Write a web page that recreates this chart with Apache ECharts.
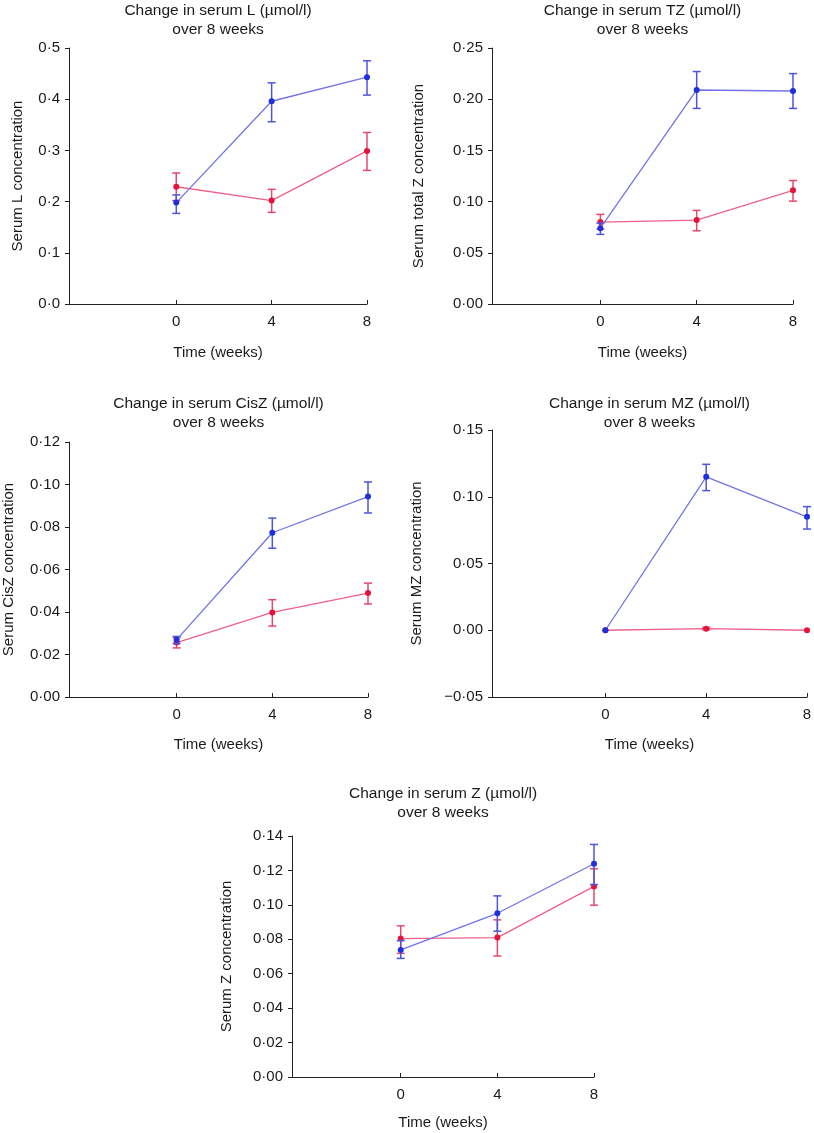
<!DOCTYPE html>
<html>
<head>
<meta charset="utf-8">
<script src="https://cdn.jsdelivr.net/npm/echarts@6/dist/echarts.min.js"></script>
<style>
html,body{margin:0;padding:0;background:#fff;}
#chart{width:814px;height:1133px;}
</style>
</head>
<body>
<div id="chart"></div>
<script>
// ---- data ----
var weeks = [0, 4, 8];
var xTickLabels = [0, 4, 8];

var L_blue = [0.198, 0.396, 0.443];
var L_blue_lo = [0.177, 0.356, 0.408];
var L_blue_hi = [0.213, 0.432, 0.475];
var L_red = [0.229, 0.202, 0.299];
var L_red_lo = [0.202, 0.179, 0.261];
var L_red_hi = [0.256, 0.224, 0.335];

var TZ_blue = [0.074, 0.209, 0.208];
var TZ_blue_lo = [0.068, 0.191, 0.191];
var TZ_blue_hi = [0.079, 0.227, 0.225];
var TZ_red = [0.080, 0.082, 0.111];
var TZ_red_lo = [0.073, 0.0715, 0.1005];
var TZ_red_hi = [0.0875, 0.0914, 0.1206];

var CisZ_blue = [0.027, 0.0773, 0.0943];
var CisZ_blue_lo = [0.0251, 0.070, 0.0866];
var CisZ_blue_hi = [0.0285, 0.0842, 0.1012];
var CisZ_red = [0.0256, 0.0398, 0.0489];
var CisZ_red_lo = [0.0231, 0.0334, 0.0438];
var CisZ_red_hi = [0.028, 0.0458, 0.0536];

var MZ_blue = [0, 0.1149, 0.085];
var MZ_blue_lo = [0, 0.1046, 0.0758];
var MZ_blue_hi = [0, 0.1243, 0.0926];
var MZ_red = [0, 0.0012, 0];
var MZ_red_lo = [0, 0.0003, 0];
var MZ_red_hi = [0, 0.0021, 0];

var Z_blue = [0.0738, 0.0951, 0.1239];
var Z_blue_lo = [0.0689, 0.0847, 0.1118];
var Z_blue_hi = [0.0792, 0.1052, 0.1351];
var Z_red = [0.0804, 0.081, 0.1107];
var Z_red_lo = [0.0718, 0.0703, 0.0998];
var Z_red_hi = [0.0878, 0.0913, 0.121];

var titles = [
  'Change in serum L (\u00b5mol/l)\nover 8 weeks',
  'Change in serum TZ (\u00b5mol/l)\nover 8 weeks',
  'Change in serum CisZ (\u00b5mol/l)\nover 8 weeks',
  'Change in serum MZ (\u00b5mol/l)\nover 8 weeks',
  'Change in serum Z (\u00b5mol/l)\nover 8 weeks'
];
var yNames = ['Serum L concentration', 'Serum total Z concentration', 'Serum CisZ concentration', 'Serum MZ concentration', 'Serum Z concentration'];
var xName = 'Time (weeks)';

// ---- layout / style ----
var FONT = "'Liberation Sans', Arial, Helvetica, sans-serif";
var TXT = '#1a1a1a';
var BLUE_LINE = '#7373e8', BLUE_MK = '#1f2fe0', BLUE_ERR = '#4a56e2';
var RED_LINE = '#ee6088', RED_MK = '#e3143c', RED_ERR = '#e8486e';

var panels = [
  {left: 69, top: 48, width: 298, height: 256, ymin: 0, ymax: 0.5, yint: 0.1, dec: 1, ygap: 44, xgap: 41, tTop: 1,
   b: L_blue, bl: L_blue_lo, bh: L_blue_hi, r: L_red, rl: L_red_lo, rh: L_red_hi},
  {left: 492, top: 48, width: 301, height: 256, ymin: 0, ymax: 0.25, yint: 0.05, dec: 2, ygap: 65.5, xgap: 41, tTop: 1,
   b: TZ_blue, bl: TZ_blue_lo, bh: TZ_blue_hi, r: TZ_red, rl: TZ_red_lo, rh: TZ_red_hi},
  {left: 69, top: 442, width: 299, height: 255, ymin: 0, ymax: 0.12, yint: 0.02, dec: 2, ygap: 52.5, xgap: 40.5, tTop: 394,
   b: CisZ_blue, bl: CisZ_blue_lo, bh: CisZ_blue_hi, r: CisZ_red, rl: CisZ_red_lo, rh: CisZ_red_hi},
  {left: 492, top: 430, width: 315, height: 267, ymin: -0.05, ymax: 0.15, yint: 0.05, dec: 2, ygap: 67.5, xgap: 40.5, tTop: 394,
   b: MZ_blue, bl: MZ_blue_lo, bh: MZ_blue_hi, r: MZ_red, rl: MZ_red_lo, rh: MZ_red_hi},
  {left: 292, top: 836, width: 302, height: 241, ymin: 0, ymax: 0.14, yint: 0.02, dec: 2, ygap: 57.5, xgap: 38.5, tTop: 784,
   b: Z_blue, bl: Z_blue_lo, bh: Z_blue_hi, r: Z_red, rl: Z_red_lo, rh: Z_red_hi}
];

function pts(vals) { return weeks.map(function (w, i) { return [w, vals[i]]; }); }
function errs(lo, hi) { return weeks.map(function (w, i) { return [w, lo[i], hi[i]]; }); }

function errRender(color) {
  return function (params, api) {
    var x = api.value(0), lo = api.value(1), hi = api.value(2);
    if (hi - lo < 1e-9) return null;
    var pLo = api.coord([x, lo]);
    var pHi = api.coord([x, hi]);
    var c = 4;
    var st = {stroke: color, lineWidth: 1.5, fill: null};
    return {
      type: 'group',
      children: [
        {type: 'line', shape: {x1: pLo[0], y1: pLo[1], x2: pHi[0], y2: pHi[1]}, style: st},
        {type: 'line', shape: {x1: pLo[0] - c, y1: pLo[1], x2: pLo[0] + c, y2: pLo[1]}, style: st},
        {type: 'line', shape: {x1: pHi[0] - c, y1: pHi[1], x2: pHi[0] + c, y2: pHi[1]}, style: st}
      ]
    };
  };
}

var option = {
  animation: false,
  backgroundColor: '#fff',
  textStyle: {fontFamily: FONT},
  title: [], grid: [], xAxis: [], yAxis: [], series: []
};

panels.forEach(function (p, i) {
  option.title.push({
    text: titles[i],
    left: p.left + p.width / 2,
    top: p.tTop,
    textAlign: 'center',
    padding: 0,
    textStyle: {fontFamily: FONT, fontSize: 15.5, fontWeight: 'normal', color: TXT, lineHeight: 19}
  });
  option.grid.push({left: p.left, top: p.top, width: p.width, height: p.height, containLabel: false, outerBoundsMode: 'none'});
  option.xAxis.push({
    type: 'value', gridIndex: i, min: -4.5, max: 8,
    name: xName, nameLocation: 'middle', nameGap: p.xgap,
    nameTextStyle: {fontFamily: FONT, fontSize: 15, color: TXT},
    axisLine: {show: true, onZero: false, lineStyle: {color: '#222', width: 1}},
    axisTick: {show: true, inside: true, length: 4, customValues: xTickLabels, lineStyle: {color: '#222'}},
    axisLabel: {customValues: xTickLabels, margin: 10, fontFamily: FONT, fontSize: 15, color: TXT},
    splitLine: {show: false}
  });
  option.yAxis.push({
    type: 'value', gridIndex: i, min: p.ymin, max: p.ymax, interval: p.yint,
    name: yNames[i], nameLocation: 'middle', nameGap: p.ygap,
    nameTextStyle: {fontFamily: FONT, fontSize: 15, color: TXT},
    axisLine: {show: true, onZero: false, lineStyle: {color: '#222', width: 1}},
    axisTick: {show: true, inside: false, length: 4, lineStyle: {color: '#222'}},
    axisLabel: {margin: 9, fontFamily: FONT, fontSize: 15, color: TXT,
      formatter: (function (d) { return function (v) { return v.toFixed(d).replace('.', '\u00b7').replace('-', '\u2212'); }; })(p.dec)},
    splitLine: {show: false}
  });
  option.series.push({
    type: 'custom', xAxisIndex: i, yAxisIndex: i, data: errs(p.rl, p.rh),
    renderItem: errRender(RED_ERR), encode: {x: 0, y: [1, 2]}, z: 2, silent: true
  });
  option.series.push({
    type: 'line', xAxisIndex: i, yAxisIndex: i, data: pts(p.r),
    symbol: 'circle', symbolSize: 6, showSymbol: true,
    lineStyle: {color: RED_LINE, width: 1.3}, itemStyle: {color: RED_MK}, z: 3, silent: true
  });
  option.series.push({
    type: 'custom', xAxisIndex: i, yAxisIndex: i, data: errs(p.bl, p.bh),
    renderItem: errRender(BLUE_ERR), encode: {x: 0, y: [1, 2]}, z: 4, silent: true
  });
  option.series.push({
    type: 'line', xAxisIndex: i, yAxisIndex: i, data: pts(p.b),
    symbol: 'circle', symbolSize: 6, showSymbol: true,
    lineStyle: {color: BLUE_LINE, width: 1.3}, itemStyle: {color: BLUE_MK}, z: 5, silent: true
  });
});

var chart = echarts.init(document.getElementById('chart'), null, {renderer: 'canvas'});
chart.setOption(option);
</script>
</body>
</html>
